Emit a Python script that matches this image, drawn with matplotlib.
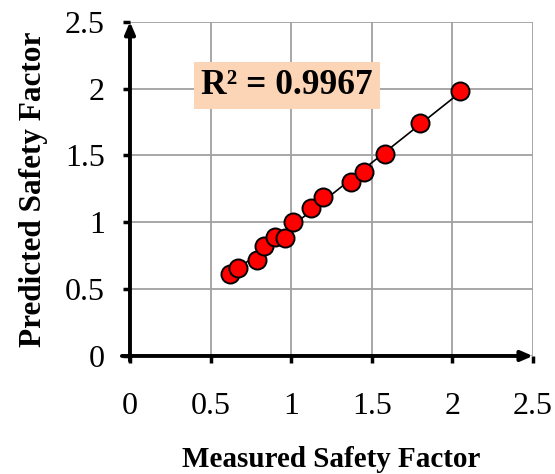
import numpy as np
import matplotlib
matplotlib.use("Agg")
import matplotlib.pyplot as plt

# values
measured = [0.62, 0.67, 0.79, 0.83, 0.90, 0.96, 1.01, 1.12, 1.20, 1.37, 1.45, 1.58, 1.80, 2.05]
predicted = [0.61, 0.66, 0.72, 0.82, 0.89, 0.88, 1.00, 1.11, 1.19, 1.30, 1.38, 1.51, 1.74, 1.98]
ticks = [0, 0.5, 1, 1.5, 2, 2.5]
tick_labels = ['0', '0.5', '1', '1.5', '2', '2.5']
r2_text = 'R² = 0.9967'

plt.rcParams['font.family'] = ['Liberation Serif', 'DejaVu Serif']

fig = plt.figure(figsize=(5.55, 4.74), dpi=100)
ax = fig.add_axes([0.2342, 0.249, 0.7262, 0.705])

# trendline
m, b = np.polyfit(measured, predicted, 1)
xs = np.array([min(measured), max(measured)])
ax.plot(xs, m * xs + b, color='black', lw=1.2, zorder=2)

ax.plot(measured, predicted, 'o', ms=13, mfc='#ff0000', mec='black', mew=1.4, zorder=3)

ax.set_xlim(0, 2.5)
ax.set_ylim(0, 2.5)
ax.set_xticks(ticks)
ax.set_yticks(ticks)
ax.set_xticklabels(tick_labels)
ax.set_yticklabels(tick_labels)
ax.tick_params(labelsize=23, length=5, width=2.5, direction='out', color='black')
ax.tick_params(axis='x', pad=21)
ax.tick_params(axis='y', pad=13)
ax.grid(True, color='#a0a0a0', lw=1.3)
ax.set_axisbelow(True)

for s in ['top', 'right', 'left', 'bottom']:
    ax.spines[s].set_visible(False)

# arrow axes
ax.annotate('', xy=(1.0, 0), xytext=(-0.02, 0), xycoords='axes fraction',
            arrowprops=dict(arrowstyle='-|>,head_length=0.7,head_width=0.3', lw=2.8, color='black',
                            shrinkA=0, shrinkB=0), annotation_clip=False)
ax.annotate('', xy=(0, 1.0), xytext=(0, -0.015), xycoords='axes fraction',
            arrowprops=dict(arrowstyle='-|>,head_length=0.7,head_width=0.3', lw=2.8, color='black',
                            shrinkA=0, shrinkB=0), annotation_clip=False)

ax.text(0.44, 2.025, r2_text, fontsize=25.5, fontweight='bold', ha='left', va='center',
        bbox=dict(boxstyle='square,pad=0.2', fc='#fbd5b5', ec='none'), zorder=4)

ax.set_xlabel('Measured Safety Factor', fontsize=21, fontweight='bold', labelpad=18)
ax.set_ylabel('Predicted Safety Factor', fontsize=22.5, fontweight='bold', labelpad=12)

fig.savefig('out.png', dpi=100)
